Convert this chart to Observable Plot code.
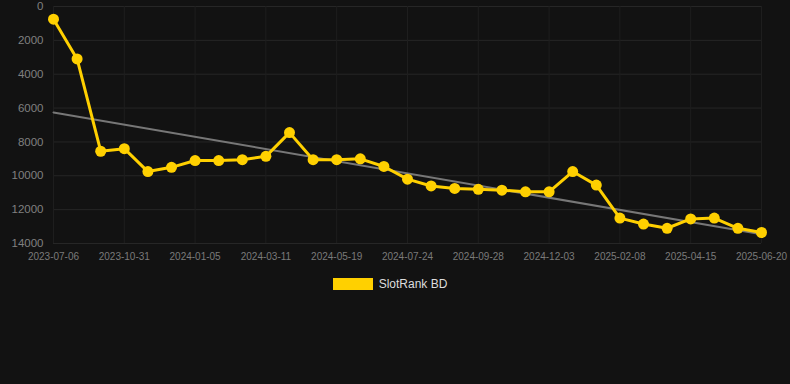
<!DOCTYPE html>
<html><head><meta charset="utf-8">
<script src="https://cdn.jsdelivr.net/npm/d3@7"></script>
<script src="https://cdn.jsdelivr.net/npm/@observablehq/plot@0.6"></script>
<style>
html,body{margin:0;padding:0;background:#121212;width:790px;height:384px;overflow:hidden;font-family:"Liberation Sans",Arial,sans-serif;}
#legend{display:flex;justify-content:center;align-items:center;margin-top:16px;height:12px;padding-right:10px;}
#legend .sw{width:40px;height:12px;background:#FFD000;margin-right:6px;}
#legend .lb{color:#dddddd;font-size:12px;line-height:12px;}
</style></head><body>
<div id="chart"></div>
<div id="legend"><span class="sw"></span><span class="lb" id="lbl"></span></div>
<script>
const seriesName = "SlotRank BD";
const dates = ["2023-07-06","2023-08-14","2023-09-22","2023-10-31","2023-11-22","2023-12-14","2024-01-05","2024-01-27","2024-02-18","2024-03-11","2024-04-03","2024-04-26","2024-05-19","2024-06-10","2024-07-02","2024-07-24","2024-08-15","2024-09-06","2024-09-28","2024-10-20","2024-11-11","2024-12-03","2024-12-25","2025-01-17","2025-02-08","2025-03-02","2025-03-24","2025-04-15","2025-05-07","2025-05-29","2025-06-20"];
const ranks = [750,3100,8550,8400,9750,9500,9100,9100,9050,8850,7450,9050,9050,9000,9450,10200,10600,10750,10800,10850,10950,10950,9750,10550,12500,12850,13100,12550,12500,13100,13350];
const yTicks = [0,2000,4000,6000,8000,10000,12000,14000];
const xTickIdx = [0,3,6,9,12,15,18,21,24,27,30];

const data = dates.map((d,i)=>({i, date:d, rank:ranks[i]}));
const gold = "#FFD000";
const chart = Plot.plot({
  width:790, height:262,
  marginTop:6, marginLeft:53, marginRight:29, marginBottom:19,
  style:{background:"#121212", color:"#808080", fontSize:"11px", fontFamily:"'Liberation Sans',Arial,sans-serif"},
  x:{domain:[0,30], label:null},
  y:{domain:[0,14000], reverse:true, label:null},
  marks:[
    Plot.gridY(yTicks,{stroke:"#262626", strokeOpacity:1}),
    Plot.gridX(xTickIdx,{stroke:"#1e1e1e", strokeOpacity:1}),
    Plot.axisY(yTicks,{tickSize:0, tickPadding:10, tickFormat:d=>String(d), fill:"#808080", fontSize:11.5}),
    Plot.axisX(xTickIdx,{tickSize:0, tickPadding:9, tickFormat:i=>dates[i], fill:"#7a7a7a", fontSize:10}),
    Plot.linearRegressionY(data,{x:"i", y:"rank", ci:0, stroke:"#777777", strokeWidth:2}),
    Plot.line(data,{x:"i", y:"rank", stroke:gold, strokeWidth:3}),
    Plot.dot(data,{x:"i", y:"rank", r:5.5, fill:gold, stroke:"none"})
  ]
});
document.getElementById("chart").appendChild(chart);
document.getElementById("lbl").textContent = seriesName;
</script>
</body></html>
